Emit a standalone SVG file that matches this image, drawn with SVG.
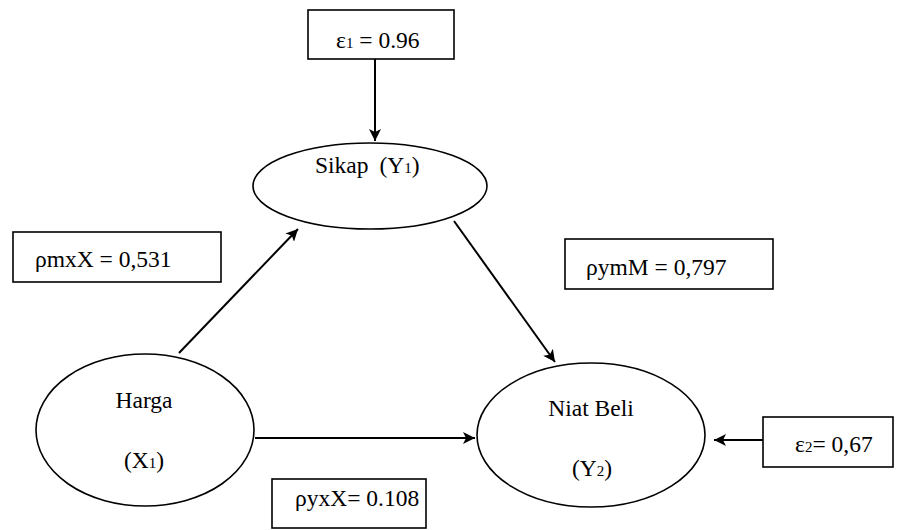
<svg xmlns="http://www.w3.org/2000/svg" width="898" height="530" viewBox="0 0 898 530">
<style>
.n{fill:#fff;stroke:#000;stroke-width:1.6}
.b{fill:#fff;stroke:#000;stroke-width:1.6}
text{font-family:'Liberation Serif','DejaVu Serif',serif;font-size:23.5px;fill:#000}
.s{font-size:15px}
.c{stroke:#000;stroke-width:2;fill:none;marker-end:url(#ah)}
</style>
<defs>
<marker id="ah" viewBox="0 0 10 10" refX="10" refY="5" markerWidth="6" markerHeight="6" orient="auto" markerUnits="strokeWidth">
<path d="M0,0 L10,5 L0,10 L2.5,5 z" fill="#000"/>
</marker>
</defs>
<rect width="898" height="530" fill="#fff"/>
<g id="connectors">
<line class="c" x1="375" y1="59" x2="375" y2="141"/>
<line class="c" x1="179" y1="353" x2="298" y2="229"/>
<line class="c" x1="454" y1="221" x2="555" y2="362"/>
<line class="c" x1="255" y1="438" x2="475" y2="438"/>
<line class="c" x1="763" y1="440" x2="714" y2="440"/>
</g>
<g id="e1">
<rect class="b" x="308" y="10" width="146" height="49"/>
<text x="336" y="48">ε<tspan class="s">1</tspan> = 0.96</text>
</g>
<g id="sikap">
<ellipse class="n" cx="370" cy="186" rx="117" ry="43"/>
<text x="315" y="173">Sikap<tspan dx="11">(Y</tspan><tspan class="s">1</tspan>)</text>
</g>
<g id="pmx">
<rect class="b" x="13" y="232" width="208" height="50"/>
<text x="35" y="267">ρmxX = 0,531</text>
</g>
<g id="pym">
<rect class="b" x="565" y="239" width="208" height="50"/>
<text x="586" y="275">ρymM = 0,797</text>
</g>
<g id="harga">
<ellipse class="n" cx="145" cy="430" rx="109" ry="76"/>
<text x="144" y="408" text-anchor="middle">Harga</text>
<text x="144" y="468" text-anchor="middle">(X<tspan class="s">1</tspan>)</text>
</g>
<g id="niat">
<ellipse class="n" cx="591" cy="435" rx="114" ry="72"/>
<text x="591" y="416" text-anchor="middle">Niat Beli</text>
<text x="592" y="476" text-anchor="middle">(Y<tspan class="s">2</tspan>)</text>
</g>
<g id="e2">
<rect class="b" x="763" y="417" width="130" height="50"/>
<text x="795" y="452">ε<tspan class="s">2</tspan>= 0,67</text>
</g>
<g id="pyx">
<rect class="b" x="272" y="479" width="154" height="49"/>
<text x="295" y="506">ρyxX= 0.108</text>
</g>
</svg>
